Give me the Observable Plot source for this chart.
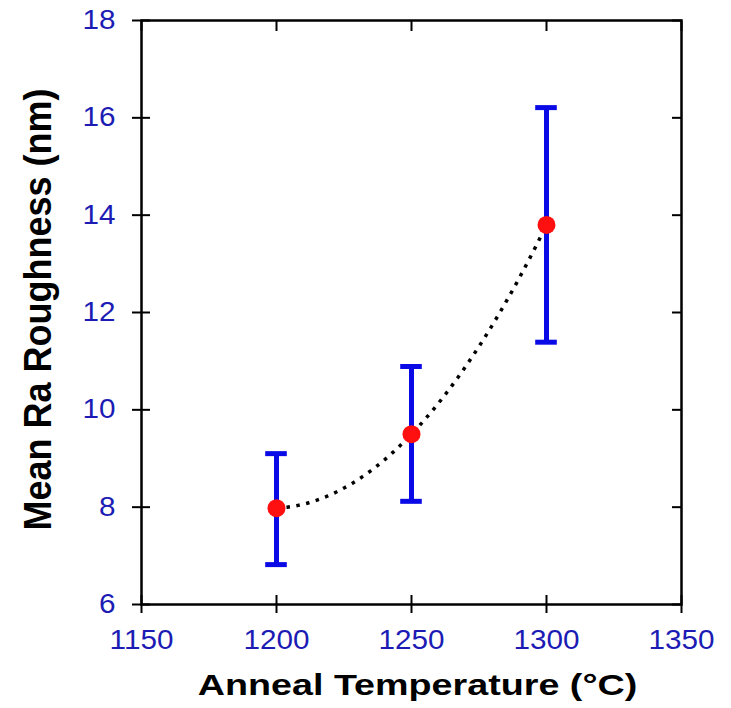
<!DOCTYPE html>
<html>
<head>
<meta charset="utf-8">
<script src="https://cdn.jsdelivr.net/npm/d3@7"></script>
<script src="https://cdn.jsdelivr.net/npm/@observablehq/plot@0.6"></script>
<style>
  html, body { margin: 0; padding: 0; background: #fff; }
  svg { display: block; }
</style>
</head>
<body>
<div id="chart"></div>
<script>
// ---- Data ----
const temperatures = [1200, 1250, 1300];           // Anneal temperature (°C)
const roughness    = [7.98, 9.50, 13.80];           // Mean Ra roughness (nm)
const errLow       = [6.82, 8.12, 11.39];           // lower error bar end
const errHigh      = [9.10, 10.89, 16.21];          // upper error bar end
const xTicks = [1150, 1200, 1250, 1300, 1350];
const yTicks = [6, 8, 10, 12, 14, 16, 18];
const xLabel = "Anneal Temperature (°C)";
const yLabel = "Mean Ra Roughness (nm)";

const rows = temperatures.map((t, i) => ({temp: t, ra: roughness[i], lo: errLow[i], hi: errHigh[i]}));

// Quadratic least-squares fit of the measured points (the dotted trend line)
function quadFit(xs, ys) {
  const n = xs.length, x0 = xs[0];
  const S = [0,0,0,0,0], T = [0,0,0];
  for (let i = 0; i < n; i++) {
    const u = xs[i] - x0;
    for (let k = 0; k < 5; k++) S[k] += u ** k;
    for (let k = 0; k < 3; k++) T[k] += ys[i] * u ** k;
  }
  const A = [[S[0],S[1],S[2]],[S[1],S[2],S[3]],[S[2],S[3],S[4]]];
  const b = T.slice();
  for (let i = 0; i < 3; i++) {
    for (let j = i + 1; j < 3; j++) {
      const f = A[j][i] / A[i][i];
      for (let k = i; k < 3; k++) A[j][k] -= f * A[i][k];
      b[j] -= f * b[i];
    }
  }
  const c = [0,0,0];
  for (let i = 2; i >= 0; i--) {
    let s = b[i];
    for (let k = i + 1; k < 3; k++) s -= A[i][k] * c[k];
    c[i] = s / A[i][i];
  }
  return x => c[0] + c[1] * (x - x0) + c[2] * (x - x0) ** 2;
}
const fit = quadFit(temperatures, roughness);
const fitLine = d3.range(temperatures[0], temperatures[temperatures.length - 1] + 0.001, 1)
  .map(t => ({temp: t, ra: fit(t)}));

const tickBlue = "#1c1cb4";
const barBlue = "#0a0ae6";
const dotRed = "#ff1010";
const capHalf = 4; // half cap width in °C

const chart = Plot.plot({
  width: 731,
  height: 708,
  marginLeft: 141,
  marginRight: 50,
  marginTop: 20,
  marginBottom: 104,
  style: {fontFamily: "'Liberation Sans', Arial, sans-serif", background: "#fff"},
  x: {domain: [1150, 1350]},
  y: {domain: [6, 18]},
  marks: [
    // tick labels
    Plot.axisX({ticks: xTicks, tickSize: 0, tickPadding: 25, fontSize: 27, fill: tickBlue, label: null, tickFormat: d => String(d)}),
    Plot.axisY({ticks: yTicks, tickSize: 0, tickPadding: 26, fontSize: 27, fill: tickBlue, label: null, tickFormat: d => String(d)}),
    // tick marks: crossing on left & bottom, inward on top & right
    Plot.axisX({ticks: xTicks, anchor: "bottom", tickSize: 9, text: null, label: null, stroke: "#000", strokeWidth: 2}),
    Plot.axisX({ticks: xTicks, anchor: "bottom", tickSize: 9, dy: -9, text: null, label: null, stroke: "#000", strokeWidth: 2}),
    Plot.axisX({ticks: xTicks, anchor: "top", tickSize: 10, dy: 10, text: null, label: null, stroke: "#000", strokeWidth: 2}),
    Plot.axisY({ticks: yTicks, anchor: "left", tickSize: 9, text: null, label: null, stroke: "#000", strokeWidth: 2}),
    Plot.axisY({ticks: yTicks, anchor: "left", tickSize: 9, dx: 9, text: null, label: null, stroke: "#000", strokeWidth: 2}),
    Plot.axisY({ticks: yTicks, anchor: "right", tickSize: 10, dx: -10, text: null, label: null, stroke: "#000", strokeWidth: 2}),
    Plot.frame({stroke: "#000", strokeWidth: 2.5}),
    // dotted trend line
    Plot.line(fitLine, {x: "temp", y: "ra", stroke: "#000", strokeWidth: 3.5, strokeDasharray: "3.5 6.5", strokeLinecap: "butt"}),
    // error bars
    Plot.ruleX(rows, {x: "temp", y1: "lo", y2: "hi", stroke: barBlue, strokeWidth: 5}),
    Plot.ruleY(rows, {y: "hi", x1: d => d.temp - capHalf, x2: d => d.temp + capHalf, stroke: barBlue, strokeWidth: 5}),
    Plot.ruleY(rows, {y: "lo", x1: d => d.temp - capHalf, x2: d => d.temp + capHalf, stroke: barBlue, strokeWidth: 5}),
    // points
    Plot.dot(rows, {x: "temp", y: "ra", r: 9, fill: dotRed, stroke: "none"}),
    // axis titles
    Plot.text([xLabel], {frameAnchor: "bottom", textAnchor: "middle", lineAnchor: "bottom", dx: 6, dy: 90, fontSize: 29, fontWeight: "bold", fill: "#000"}),
    Plot.text([yLabel], {frameAnchor: "left", textAnchor: "middle", lineAnchor: "bottom", rotate: -90, dx: -92, dy: -3, fontSize: 36, fontWeight: "bold", fill: "#000"})
  ]
});

document.getElementById("chart").appendChild(chart);

// The reference's lettering is stretched horizontally on screen; reproduce that.
function stretch(pred, sx, sy, anchor) {
  d3.select(chart).selectAll("text").each(function() {
    if (!pred(this.textContent)) return;
    const r = this.getBoundingClientRect();
    const px = anchor === "end" ? r.right : (r.left + r.right) / 2;
    const py = (r.top + r.bottom) / 2;
    const m = this.parentNode.getScreenCTM().inverse();
    const pt = chart.createSVGPoint();
    pt.x = px; pt.y = py;
    const lp = pt.matrixTransform(m);
    const old = this.getAttribute("transform") || "";
    this.setAttribute("transform", `translate(${lp.x},${lp.y}) scale(${sx},${sy}) translate(${-lp.x},${-lp.y}) ${old}`);
  });
}
const xTickSet = new Set(xTicks.map(String));
const yTickSet = new Set(yTicks.map(String));
stretch(t => xTickSet.has(t), 1.1, 1, "middle");
stretch(t => yTickSet.has(t), 1.1, 1, "end");
stretch(t => t === xLabel, 1.3, 1, "middle");
stretch(t => t === yLabel, 1.1, 1, "middle");
</script>
</body>
</html>
